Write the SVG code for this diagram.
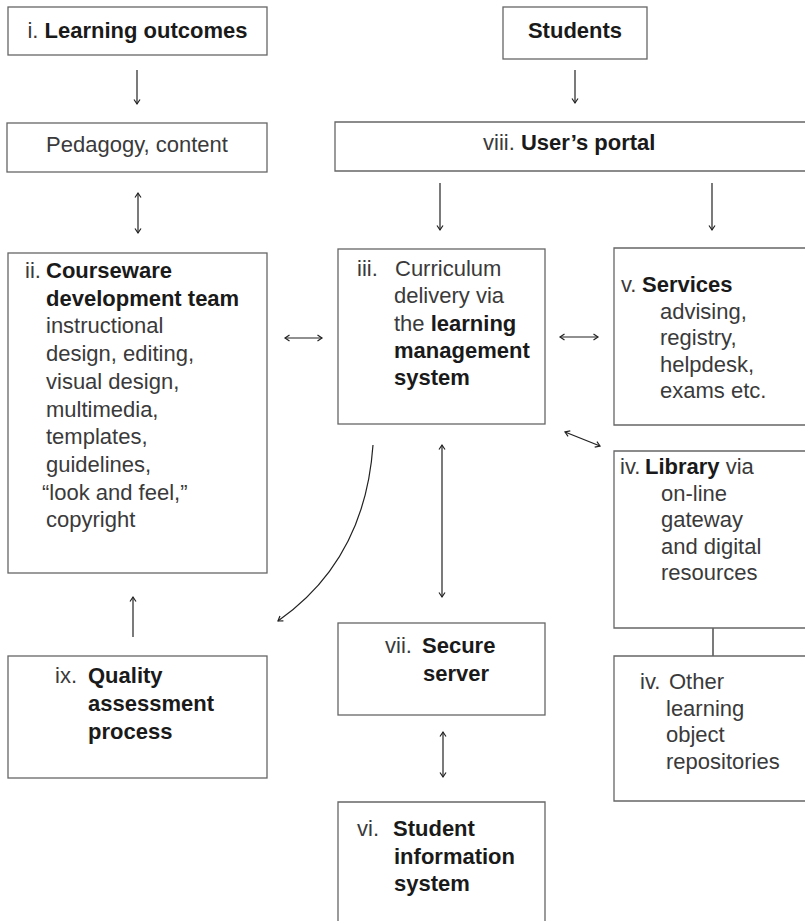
<svg xmlns="http://www.w3.org/2000/svg" width="805" height="921" viewBox="0 0 805 921">
<defs>
<style>
.box{fill:none;stroke:#666;stroke-width:1.3}
.t{font-family:"Liberation Sans",Arial,sans-serif;font-size:22px;fill:#3a3a3a}
.b{font-weight:bold;fill:#1a1a1a}
.c{fill:none;stroke:#222;stroke-width:1.2}
.a{marker-end:url(#ah)}
.d{marker-start:url(#ah);marker-end:url(#ah)}
</style>
<marker id="ah" markerUnits="userSpaceOnUse" markerWidth="8" markerHeight="8" refX="6" refY="4" orient="auto-start-reverse">
<path d="M1.5,1 L6,4 L1.5,7" fill="none" stroke="#222" stroke-width="1.2"/>
</marker>
</defs>
<rect width="805" height="921" fill="#fff"/>

<g id="connectors">
<line class="c a" x1="137" y1="70" x2="137" y2="104"/>
<line class="c a" x1="575" y1="70" x2="575" y2="103"/>
<line class="c d" x1="138" y1="193" x2="138" y2="233"/>
<line class="c a" x1="440" y1="183" x2="440" y2="230"/>
<line class="c a" x1="712" y1="183" x2="712" y2="230"/>
<line class="c d" x1="285" y1="338" x2="322" y2="338"/>
<line class="c d" x1="560" y1="337" x2="598" y2="337"/>
<line class="c d" x1="565" y1="432" x2="600" y2="446"/>
<path class="c a" d="M373,445 Q365,560 278,621"/>
<line class="c d" x1="442" y1="445" x2="442" y2="597"/>
<line class="c a" x1="133" y1="637" x2="133" y2="597"/>
<line class="c d" x1="443" y1="732" x2="443" y2="777"/>
<line class="c" x1="713" y1="628" x2="713" y2="656"/>
</g>

<g id="learning-outcomes">
<rect class="box" x="8" y="7" width="259" height="48"/>
<text class="t" x="137.5" y="38" text-anchor="middle">i. <tspan class="b">Learning outcomes</tspan></text>
</g>

<g id="pedagogy">
<rect class="box" x="7" y="123" width="260" height="49"/>
<text class="t" x="137" y="152" text-anchor="middle">Pedagogy, content</text>
</g>

<g id="students">
<rect class="box" x="503" y="7" width="144" height="52"/>
<text class="t b" x="575" y="38" text-anchor="middle">Students</text>
</g>

<g id="portal">
<path class="box" d="M805,122 H335 V171 H805"/>
<text class="t" x="483" y="150">viii. <tspan class="b">User’s portal</tspan></text>
</g>

<g id="courseware">
<rect class="box" x="8" y="253" width="259" height="320"/>
<text class="t" x="25" y="278">ii.<tspan class="b" x="46">Courseware</tspan></text>
<text class="t b" x="46" y="305.7">development team</text>
<text class="t" x="46" y="333.4">instructional</text>
<text class="t" x="46" y="361.1">design, editing,</text>
<text class="t" x="46" y="388.8">visual design,</text>
<text class="t" x="46" y="416.5">multimedia,</text>
<text class="t" x="46" y="444.2">templates,</text>
<text class="t" x="46" y="471.9">guidelines,</text>
<text class="t" x="42" y="499.6">“look and feel,”</text>
<text class="t" x="46" y="527.3">copyright</text>
</g>

<g id="curriculum">
<rect class="box" x="338" y="249" width="207" height="175"/>
<text class="t" x="357" y="276">iii.<tspan x="395">Curriculum</tspan></text>
<text class="t" x="394" y="303.3">delivery via</text>
<text class="t" x="394" y="330.6">the <tspan class="b">learning</tspan></text>
<text class="t b" x="394" y="357.9">management</text>
<text class="t b" x="394" y="385.2">system</text>
</g>

<g id="services">
<path class="box" d="M805,248 H614 V425 H805"/>
<text class="t" x="621" y="292">v.<tspan class="b" x="642">Services</tspan></text>
<text class="t" x="660" y="318.5">advising,</text>
<text class="t" x="660" y="345">registry,</text>
<text class="t" x="660" y="371.5">helpdesk,</text>
<text class="t" x="660" y="398">exams etc.</text>
</g>

<g id="library">
<path class="box" d="M805,451 H614 V628 H805"/>
<text class="t" x="620" y="474">iv.<tspan class="b" x="645">Library</tspan> via</text>
<text class="t" x="661" y="500.5">on-line</text>
<text class="t" x="661" y="527">gateway</text>
<text class="t" x="661" y="553.5">and digital</text>
<text class="t" x="661" y="580">resources</text>
</g>

<g id="other-repositories">
<path class="box" d="M805,656 H614 V801 H805"/>
<text class="t" x="640" y="689">iv.<tspan x="669">Other</tspan></text>
<text class="t" x="666" y="715.7">learning</text>
<text class="t" x="666" y="742.4">object</text>
<text class="t" x="666" y="769.1">repositories</text>
</g>

<g id="quality">
<rect class="box" x="8" y="656" width="259" height="122"/>
<text class="t" x="55" y="683">ix.<tspan class="b" x="88">Quality</tspan></text>
<text class="t b" x="88" y="711">assessment</text>
<text class="t b" x="88" y="739">process</text>
</g>

<g id="secure-server">
<rect class="box" x="338" y="623" width="207" height="92"/>
<text class="t" x="385" y="653">vii.<tspan class="b" x="422">Secure</tspan></text>
<text class="t b" x="423" y="681">server</text>
</g>

<g id="student-info">
<path class="box" d="M338,921 V802 H545 V921"/>
<text class="t" x="357" y="836">vi.<tspan class="b" x="393">Student</tspan></text>
<text class="t b" x="394" y="863.5">information</text>
<text class="t b" x="394" y="891">system</text>
</g>
</svg>
